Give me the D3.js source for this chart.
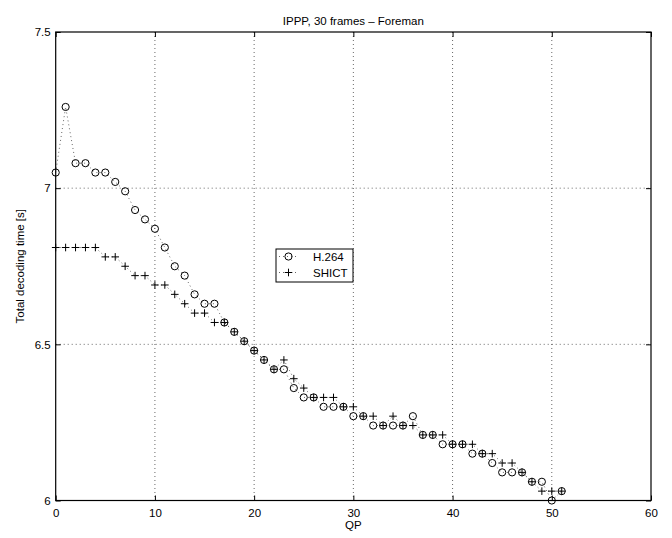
<!DOCTYPE html>
<html>
<head>
<meta charset="utf-8">
<script src="https://cdn.jsdelivr.net/npm/d3@7"></script>
<style>
html,body{margin:0;padding:0;background:#fff;}
svg{display:block;font-family:"Liberation Sans",Arial,Helvetica,sans-serif;}
</style>
</head>
<body>
<svg id="c" width="672" height="538"></svg>
<script>
const qp = d3.range(0, 52);
const h264 = [7.05,7.26,7.08,7.08,7.05,7.05,7.02,6.99,6.93,6.90,
              6.87,6.81,6.75,6.72,6.66,6.63,6.63,6.57,6.54,6.51,
              6.48,6.45,6.42,6.42,6.36,6.33,6.33,6.30,6.30,6.30,
              6.27,6.27,6.24,6.24,6.24,6.24,6.27,6.21,6.21,6.18,
              6.18,6.18,6.15,6.15,6.12,6.09,6.09,6.09,6.06,6.06,
              6.00,6.03];
const shict = [6.81,6.81,6.81,6.81,6.81,6.78,6.78,6.75,6.72,6.72,
               6.69,6.69,6.66,6.63,6.60,6.60,6.57,6.57,6.54,6.51,
               6.48,6.45,6.42,6.45,6.39,6.36,6.33,6.33,6.33,6.30,
               6.30,6.27,6.27,6.24,6.27,6.24,6.24,6.21,6.21,6.21,
               6.18,6.18,6.18,6.15,6.15,6.12,6.12,6.09,6.06,6.03,
               6.03,6.03];
const xTicks = [0,10,20,30,40,50,60];
const yTicks = [6,6.5,7,7.5];
const seriesNames = ["H.264","SHICT"];

const svg = d3.select("#c");
const L = 55.7, R = 651, T = 32, B = 500.5;
const x = d3.scaleLinear().domain([0,60]).range([L,R]);
const y = d3.scaleLinear().domain([6,7.5]).range([B,T]);

// grid
const g = svg.append("g");
g.selectAll(".gx").data(xTicks.slice(1,-1)).enter().append("line")
  .attr("x1",d=>x(d)).attr("x2",d=>x(d)).attr("y1",T).attr("y2",B)
  .attr("stroke","#000").attr("stroke-width",0.6).attr("stroke-dasharray","1,3");
g.selectAll(".gy").data(yTicks.slice(1,-1)).enter().append("line")
  .attr("y1",d=>y(d)).attr("y2",d=>y(d)).attr("x1",L).attr("x2",R)
  .attr("stroke","#000").attr("stroke-width",0.6).attr("stroke-dasharray","1,3");

// axes
const fmt = d=>String(d);
svg.append("g").attr("transform",`translate(0,${B})`)
  .call(d3.axisBottom(x).tickValues(xTicks).tickSize(-5).tickPadding(8).tickFormat(fmt))
  .call(a=>a.select(".domain").remove());
svg.append("g").attr("transform",`translate(0,${T})`)
  .call(d3.axisTop(x).tickValues(xTicks).tickSize(-5).tickFormat(""))
  .call(a=>a.select(".domain").remove());
svg.append("g").attr("transform",`translate(${L},0)`)
  .call(d3.axisLeft(y).tickValues(yTicks).tickSize(-5).tickPadding(5).tickFormat(fmt))
  .call(a=>a.select(".domain").remove());
svg.append("g").attr("transform",`translate(${R},0)`)
  .call(d3.axisRight(y).tickValues(yTicks).tickSize(-5).tickFormat(""))
  .call(a=>a.select(".domain").remove());
svg.selectAll(".tick text").attr("font-size",11.5).attr("fill","#000")
  .attr("font-family","'Liberation Sans',Arial,sans-serif");
svg.selectAll(".tick line").attr("stroke","#000");

svg.append("rect").attr("x",L).attr("y",T).attr("width",R-L).attr("height",B-T)
  .attr("fill","none").attr("stroke","#000").attr("stroke-width",1.2);

// lines
const line = d3.line().x(d=>x(d[0])).y(d=>y(d[1]));
const dH = qp.map((q,i)=>[q,h264[i]]);
const dS = qp.map((q,i)=>[q,shict[i]]);
svg.append("path").attr("d",line(dH)).attr("fill","none").attr("stroke","#000")
  .attr("stroke-width",0.6).attr("stroke-dasharray","1,3");
svg.append("path").attr("d",line(dS)).attr("fill","none").attr("stroke","#000")
  .attr("stroke-width",0.6).attr("stroke-dasharray","1,3");

// markers
svg.append("g").selectAll("circle").data(dH).enter().append("circle")
  .attr("cx",d=>x(d[0])).attr("cy",d=>y(d[1])).attr("r",3.6)
  .attr("fill","none").attr("stroke","#000").attr("stroke-width",1);
const pl = 3.8;
svg.append("g").selectAll("path").data(dS).enter().append("path")
  .attr("d",d=>{const cx=x(d[0]),cy=y(d[1]);return `M${cx-pl},${cy}H${cx+pl}M${cx},${cy-pl}V${cy+pl}`;})
  .attr("stroke","#000").attr("stroke-width",1).attr("fill","none");

// legend
const lg = svg.append("g");
lg.append("rect").attr("x",276).attr("y",249).attr("width",77).attr("height",33)
  .attr("fill","#fff").attr("stroke","#000").attr("stroke-width",1);
const rows = [256.5, 272.5];
rows.forEach((ry,i)=>{
  lg.append("line").attr("x1",279).attr("x2",298).attr("y1",ry).attr("y2",ry)
    .attr("stroke","#000").attr("stroke-width",0.6).attr("stroke-dasharray","1,3");
  if(i===0){
    lg.append("circle").attr("cx",288.5).attr("cy",ry).attr("r",3.6)
      .attr("fill","none").attr("stroke","#000");
  } else {
    lg.append("path").attr("d",`M${288.5-pl},${ry}H${288.5+pl}M288.5,${ry-pl}V${ry+pl}`)
      .attr("stroke","#000");
  }
  lg.append("text").attr("x",313).attr("y",ry+4).attr("font-size",11.5)
    .text(seriesNames[i]);
});

// title & labels
svg.append("text").attr("x",(L+R)/2).attr("y",25).attr("text-anchor","middle")
  .attr("font-size",11.5).text("IPPP, 30 frames \u2013 Foreman");
svg.append("text").attr("x",(L+R)/2).attr("y",529).attr("text-anchor","middle")
  .attr("font-size",11.5).text("QP");
svg.append("text").attr("transform",`translate(24,${(T+B)/2}) rotate(-90)`)
  .attr("text-anchor","middle").attr("font-size",11.5).text("Total decoding time [s]");
</script>
</body>
</html>
